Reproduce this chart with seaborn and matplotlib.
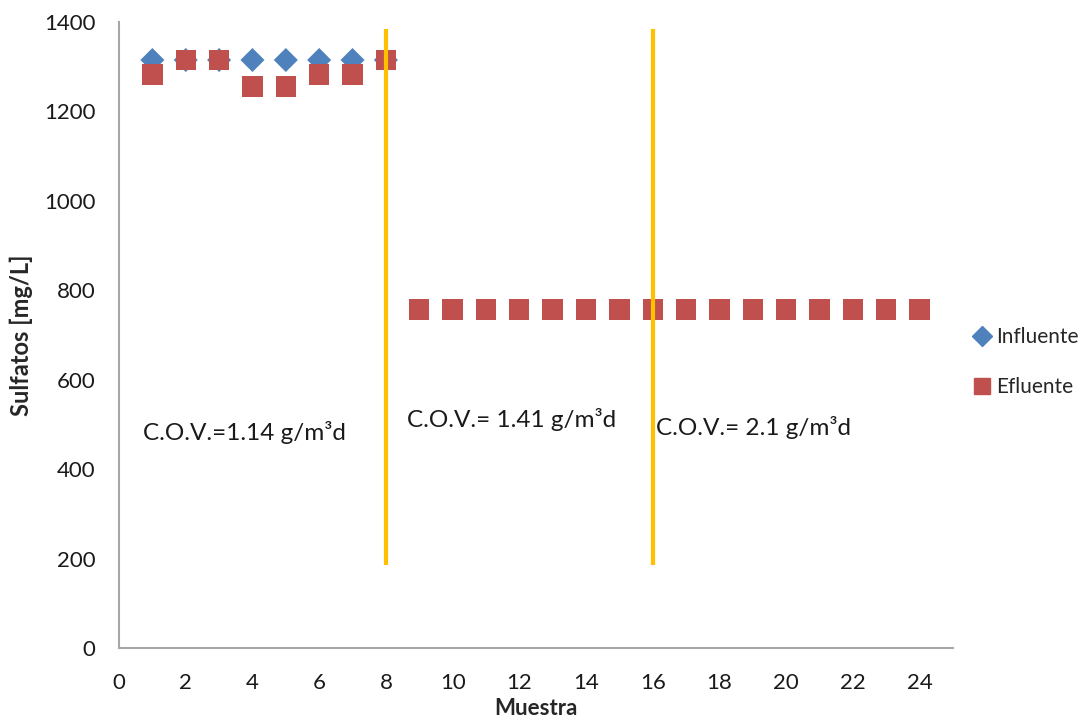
import matplotlib
matplotlib.use("Agg")
import matplotlib.pyplot as plt
import seaborn as sns
import pandas as pd
from matplotlib.lines import Line2D

# ---- data ----
influente_x = [1, 2, 3, 4, 5, 6, 7, 8]
influente_y = [1315, 1315, 1315, 1315, 1315, 1315, 1315, 1315]
efluente_x = list(range(1, 25))
efluente_y = [1283, 1315, 1315, 1256, 1256, 1283, 1283, 1315,
              757, 757, 757, 757, 757, 757, 757, 757,
              757, 757, 757, 757, 757, 757, 757, 757]
period_bounds = [8, 16]
bound_low, bound_high = 185, 1385
cov_labels = ["C.O.V.=1.14 g/m³d", "C.O.V.= 1.41 g/m³d", "C.O.V.= 2.1 g/m³d"]
cov_x = [0.72, 8.63, 16.09]
cov_y = [481, 510, 494]
x_ticks = list(range(0, 25, 2))
y_ticks = list(range(0, 1401, 200))

sns.set_theme(style="white")
plt.rcParams['font.family'] = ['Lato', 'DejaVu Sans']

df = pd.concat([
    pd.DataFrame({"Muestra": efluente_x, "Sulfatos": efluente_y, "Serie": "Efluente"}),
    pd.DataFrame({"Muestra": influente_x, "Sulfatos": influente_y, "Serie": "Influente"}),
])

fig = plt.figure(figsize=(10.86, 7.19), dpi=100)
ax = fig.add_axes([0.1096, 0.0987, 0.7679, 0.8707])

blue = "#4F81BD"
red = "#C0504D"
yellow = "#FFC000"

sns.scatterplot(data=df[df.Serie == "Influente"], x="Muestra", y="Sulfatos", ax=ax,
                marker="D", s=150, color=blue, edgecolor="none", zorder=3, legend=False)
sns.scatterplot(data=df[df.Serie == "Efluente"], x="Muestra", y="Sulfatos", ax=ax,
                marker="s", s=215, color=red, edgecolor="none", zorder=4, legend=False)

ax.vlines(period_bounds, bound_low, bound_high, color=yellow, linewidth=3, zorder=5)

for lab, tx, ty in zip(cov_labels, cov_x, cov_y):
    ax.text(tx, ty, lab, fontsize=17.5, va="center", ha="left", color="#1a1a1a")

ax.set_xlim(0, 25)
ax.set_ylim(0, 1400)
ax.set_xticks(x_ticks)
ax.set_yticks(y_ticks)
ax.tick_params(axis="both", labelsize=16, length=0, colors="#1a1a1a")
ax.tick_params(axis="x", pad=18)
ax.tick_params(axis="y", pad=17)
for s in ["top", "right"]:
    ax.spines[s].set_visible(False)
for s in ["left", "bottom"]:
    ax.spines[s].set_color("#a6a6a6")
    ax.spines[s].set_linewidth(1.5)

ax.set_xlabel("Muestra", fontsize=16, fontweight="bold")
ax.xaxis.set_label_coords(0.5, -0.080)
ax.set_ylabel("Sulfatos [mg/L]", fontsize=17, fontweight="bold")
ax.yaxis.set_label_coords(-0.103, 0.5)

handles = [Line2D([], [], marker="D", color=blue, linestyle="none", markersize=10),
           Line2D([], [], marker="s", color=red, linestyle="none", markersize=12)]
fig.legend(handles, ["Influente", "Efluente"], loc="center left",
           bbox_to_anchor=(0.875, 0.496), frameon=False, fontsize=15,
           handletextpad=0.1, labelspacing=1.45, handlelength=1.2)

fig.savefig("out.png", dpi=100)
